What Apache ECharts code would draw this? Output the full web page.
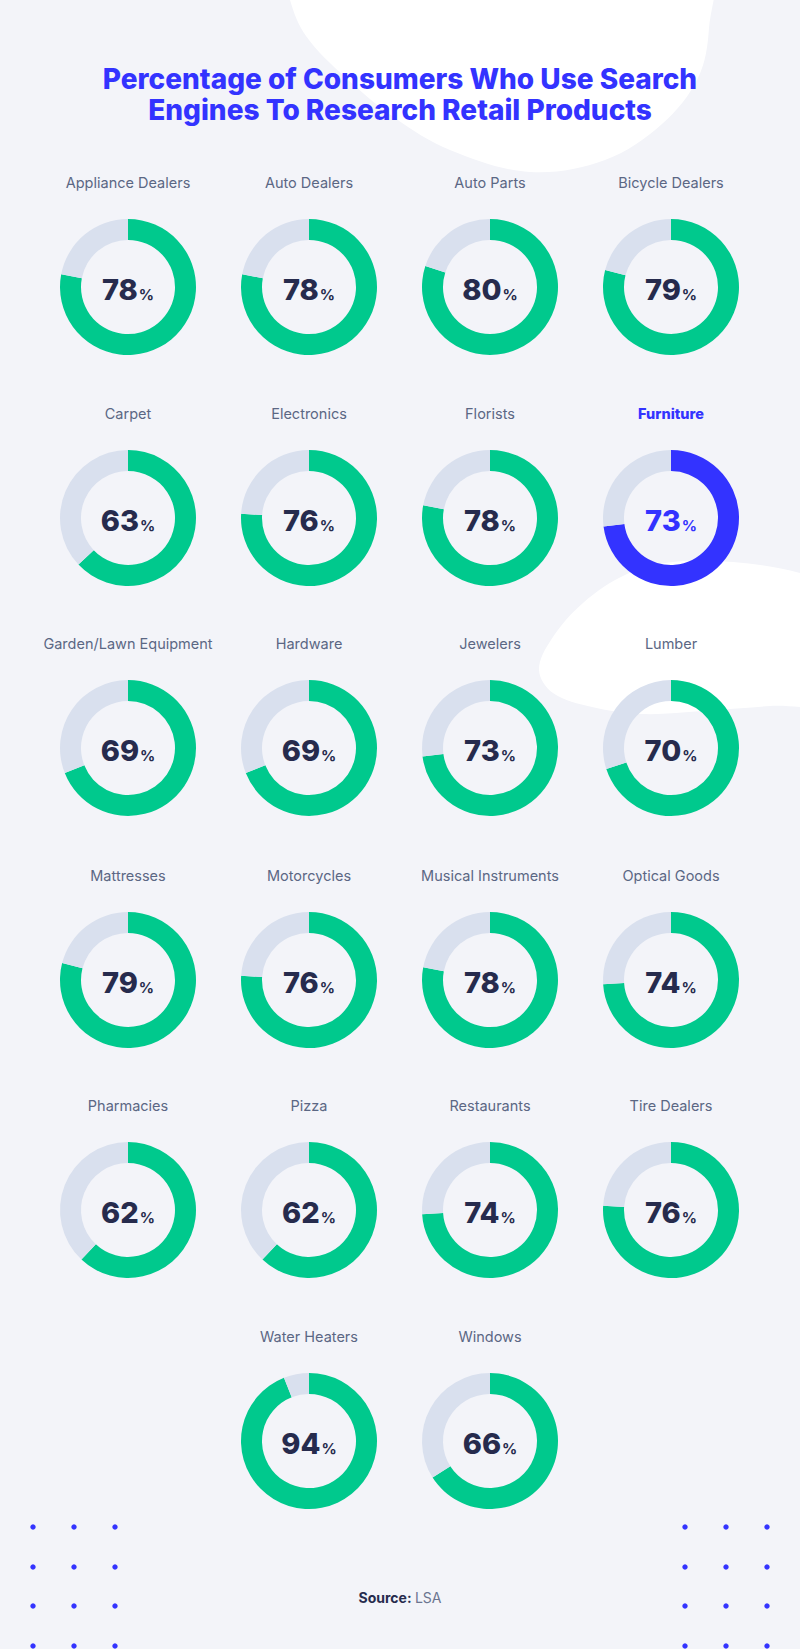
<!DOCTYPE html>
<html>
<head>
<meta charset="utf-8">
<script src="https://cdn.jsdelivr.net/npm/echarts@6/dist/echarts.min.js"></script>
<style>
  html, body { margin: 0; padding: 0; background: #f3f4f9; }
  #chart { width: 800px; height: 1649px; }
</style>
</head>
<body>
<div id="chart"></div>
<script>
// ---- data ----
const titleLines = ['Percentage of Consumers Who Use Search', 'Engines To Research Retail Products'];
const categories = [
  'Appliance Dealers', 'Auto Dealers', 'Auto Parts', 'Bicycle Dealers',
  'Carpet', 'Electronics', 'Florists', 'Furniture',
  'Garden/Lawn Equipment', 'Hardware', 'Jewelers', 'Lumber',
  'Mattresses', 'Motorcycles', 'Musical Instruments', 'Optical Goods',
  'Pharmacies', 'Pizza', 'Restaurants', 'Tire Dealers',
  'Water Heaters', 'Windows'
];
const values = [
  78, 78, 80, 79,
  63, 76, 78, 73,
  69, 69, 73, 70,
  79, 76, 78, 74,
  62, 62, 74, 76,
  94, 66
];
const highlighted = 'Furniture';
const sourceLabel = 'Source:';
const sourceName = 'LSA';

// ---- style / layout ----
const GREEN = '#00c98d';
const BLUE = '#3333ff';
const TRACK = '#d9e0ee';
const DARK = '#262b4d';
const LABEL = '#5b6784';
const colX = [128, 309, 490, 671];
const rowY = [287, 518, 748, 980, 1210, 1441];
const FONT = 'Inter, "Noto Sans", sans-serif';

function pos(i) {
  const row = Math.floor(i / 4);
  let col = i % 4;
  if (row === 5) col = col + 1; // last row centred (two items)
  return [colX[col], rowY[row]];
}

const series = [];
const graphics = [];

// background blobs
graphics.push({
  type: 'polygon', z: -10, silent: true,
  shape: {
    smooth: 0.35,
    points: [[284,-40],[290,0],[306,36],[345,77],[395,118],[450,150],[530,172],[605,160],[662,124],[698,78],[709,28],[706,-40]]
  },
  style: { fill: '#ffffff' }
});
graphics.push({
  type: 'polygon', z: -10, silent: true,
  shape: {
    smooth: 0.35,
    points: [[860,595],[800,573],[733,562],[673,562],[627,574],[583,603],[551,640],[539,670],[553,693],[592,707],[642,714],[702,711],[770,706],[860,700]]
  },
  style: { fill: '#ffffff' }
});

categories.forEach((name, i) => {
  const [cx, cy] = pos(i);
  const hl = name === highlighted;
  const main = hl ? BLUE : GREEN;
  series.push({
    type: 'pie',
    name: name,
    center: [cx, cy],
    radius: [47, 68],
    startAngle: 90,
    clockwise: true,
    silent: true,
    animation: false,
    label: { show: false },
    labelLine: { show: false },
    emphasis: { disabled: true },
    data: [
      {
        value: values[i], name: name,
        itemStyle: { color: main },
        label: {
          show: true, position: 'center',
          formatter: '{n|' + values[i] + '}{p|%}',
          rich: {
            n: { fontFamily: FONT, fontSize: 29, fontWeight: 800, color: hl ? BLUE : DARK, lineHeight: 34, verticalAlign: 'bottom' },
            p: { fontFamily: FONT, fontSize: 15, fontWeight: 700, color: hl ? BLUE : DARK, lineHeight: 34, verticalAlign: 'bottom', padding: [0, 0, 2, 1] }
          }
        }
      },
      { value: 100 - values[i], name: '', itemStyle: { color: TRACK }, label: { show: false } }
    ]
  });
  graphics.push({
    type: 'text', x: cx, y: cy - 104.5, z: 10,
    style: {
      text: name, align: 'center', verticalAlign: 'middle',
      textAlign: 'center', textVerticalAlign: 'middle',
      fontFamily: FONT, fontSize: 14.5, fontWeight: hl ? 800 : 400,
      fill: hl ? BLUE : LABEL
    }
  });
});

// decorative dots
[33, 74, 115, 685, 726, 767].forEach(x => {
  [1527, 1567, 1606, 1646].forEach(y => {
    graphics.push({ type: 'circle', z: 1, silent: true, shape: { cx: x, cy: y, r: 2.7 }, style: { fill: BLUE } });
  });
});

// source
graphics.push({
  type: 'text', x: 400, y: 1597, z: 10,
  style: {
    text: '{b|' + sourceLabel + '} {r|' + sourceName + '}',
    align: 'center', verticalAlign: 'middle',
    textAlign: 'center', textVerticalAlign: 'middle',
    rich: {
      b: { fontFamily: FONT, fontSize: 14, fontWeight: 700, fill: DARK, color: DARK },
      r: { fontFamily: FONT, fontSize: 14, fontWeight: 400, fill: '#6b7590', color: '#6b7590' }
    }
  }
});

const chart = echarts.init(document.getElementById('chart'), null, { renderer: 'svg', width: 800, height: 1649 });
chart.setOption({
  backgroundColor: '#f3f4f9',
  animation: false,
  title: {
    text: titleLines.join('\n'),
    left: 'center', top: 63, padding: 0,
    textStyle: { fontFamily: FONT, fontSize: 28, fontWeight: 800, color: BLUE, lineHeight: 31 },
    z: 10
  },
  graphic: graphics,
  series: series
});
</script>
</body>
</html>
